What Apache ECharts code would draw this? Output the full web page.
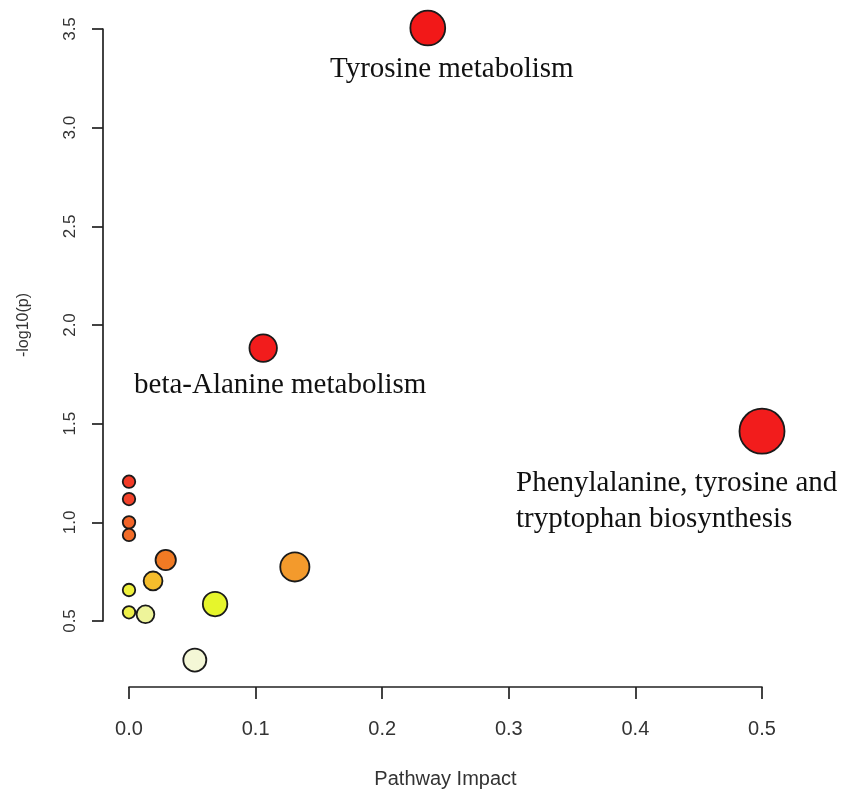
<!DOCTYPE html>
<html>
<head>
<meta charset="utf-8">
<script src="https://cdn.jsdelivr.net/npm/echarts@6/dist/echarts.min.js"></script>
<style>html,body{margin:0;padding:0;background:#fff}#c{width:851px;height:799px}</style>
</head>
<body>
<div id="c"></div>
<script>
// ---- data ----
var pathways = [
  'Tyrosine metabolism',
  'beta-Alanine metabolism',
  'Phenylalanine, tyrosine and\ntryptophan biosynthesis',
  'p4','p5','p6','p7','p8','p9','p10','p11','p12','p13','p14','p15'
];
var pathwayImpact = [0.236, 0.106, 0.500, 0.000, 0.000, 0.000, 0.000, 0.029, 0.131, 0.019, 0.000, 0.068, 0.000, 0.013, 0.052];
var negLog10P     = [3.505, 1.883, 1.462, 1.206, 1.118, 1.000, 0.936, 0.809, 0.774, 0.703, 0.657, 0.586, 0.544, 0.534, 0.302];
var labelled = ['Tyrosine metabolism', 'beta-Alanine metabolism', 'Phenylalanine, tyrosine and\ntryptophan biosynthesis'];
var xTicks = ['0.0','0.1','0.2','0.3','0.4','0.5'];
var yTicks = ['0.5','1.0','1.5','2.0','2.5','3.0','3.5'];

// ---- styles ----
var pointColors = ['#f21818','#f21c1c','#f21c1c','#f23a26','#f2422a','#f26428','#f26c28','#f07a24','#f39a2c','#f5bd2c','#eef03c','#e6f52c','#eef04a','#eef49a','#f4f7d6'];
var labelStyle = {
  'Tyrosine metabolism': {offset: [24, 41], align: 'center'},
  'beta-Alanine metabolism': {offset: [17, 37], align: 'center'},
  'Phenylalanine, tyrosine and\ntryptophan biosynthesis': {offset: [-246, 70], align: 'left'}
};

var data = pathways.map(function (name, i) {
  var item = {
    name: name,
    value: [pathwayImpact[i], negLog10P[i]],
    symbolSize: 12.5 + 46 * Math.sqrt(pathwayImpact[i]),
    itemStyle: {color: pointColors[i]}
  };
  if (labelled.indexOf(name) >= 0) {
    var ls = labelStyle[name];
    item.label = {
      show: true, position: 'inside', offset: ls.offset, align: ls.align,
      verticalAlign: 'middle',
      formatter: '{b}', fontFamily: 'Liberation Serif', fontSize: 29,
      color: '#111', lineHeight: 36
    };
  }
  return item;
});

var lineStyle = {color: '#222', width: 1.7};

var chart = echarts.init(document.getElementById('c'));
chart.setOption({
  backgroundColor: '#fff',
  animation: false,
  grid: {left: 129, right: 89, top: 29, bottom: 178, containLabel: false},
  xAxis: {
    type: 'value', min: 0, max: 0.5, interval: 0.1, offset: 66,
    axisLine: {show: true, onZero: false, lineStyle: lineStyle},
    axisTick: {show: true, length: 12, lineStyle: lineStyle},
    splitLine: {show: false},
    name: 'Pathway Impact', nameLocation: 'middle', nameGap: 82,
    nameTextStyle: {fontFamily: 'Liberation Sans', fontSize: 20, color: '#333'},
    axisLabel: {
      margin: 32, fontFamily: 'Liberation Sans', fontSize: 20, color: '#333',
      formatter: function (v) { return xTicks[Math.round(v * 10)]; }
    }
  },
  yAxis: {
    type: 'value', min: 0.5, max: 3.5, interval: 0.5, offset: 26,
    axisLine: {show: true, onZero: false, lineStyle: lineStyle},
    axisTick: {show: true, length: 11, lineStyle: lineStyle},
    splitLine: {show: false},
    name: '-log10(p)', nameLocation: 'middle', nameGap: 71,
    nameTextStyle: {fontFamily: 'Liberation Sans', fontSize: 16, color: '#333'},
    axisLabel: {
      margin: 24, rotate: 90, fontFamily: 'Liberation Sans', fontSize: 17, color: '#333',
      formatter: function (v) { return yTicks[Math.round((v - 0.5) * 2)]; }
    }
  },
  series: [{
    type: 'scatter',
    clip: false,
    data: data,
    symbol: 'circle',
    itemStyle: {borderColor: '#1a1a1a', borderWidth: 1.8, opacity: 1},
    emphasis: {disabled: true}
  }]
});
</script>
</body>
</html>
